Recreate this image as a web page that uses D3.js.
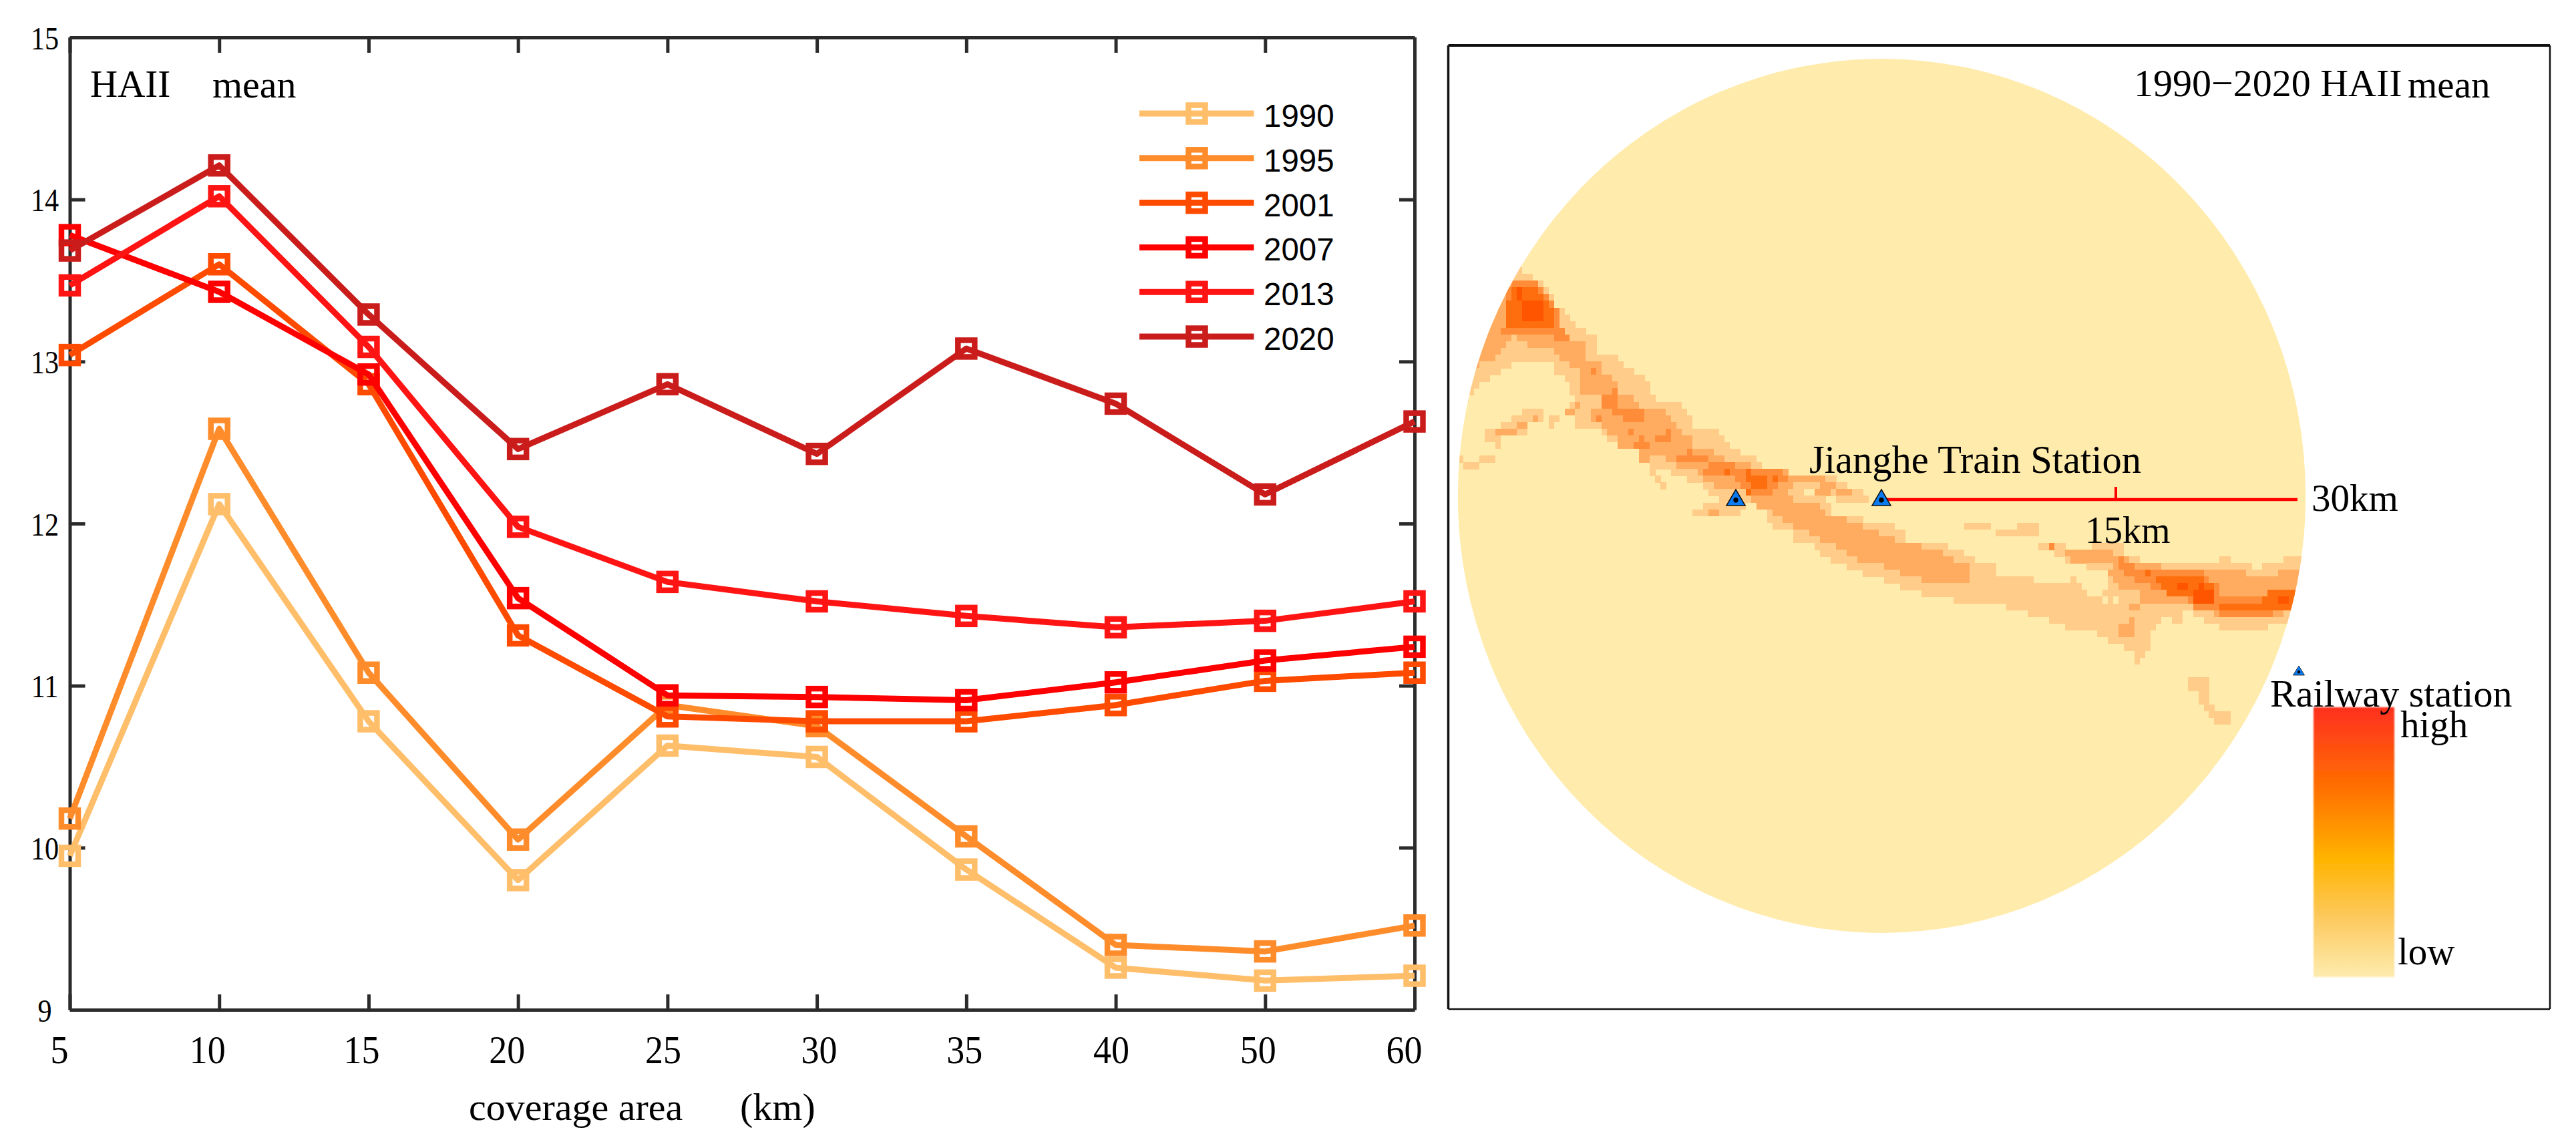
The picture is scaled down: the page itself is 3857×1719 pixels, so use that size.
<!DOCTYPE html>
<html>
<head>
<meta charset="utf-8">
<script src="https://d3js.org/d3.v7.min.js"></script>
<style>
  body { margin: 0; background: #fff; }
  text { font-family: "Liberation Serif", serif; fill: #000; }
</style>
</head>
<body>
<div id="chart"></div>
<script>
// coverage area categories, the axis is not linear (40, 50, 60)
var areas = [5, 10, 15, 20, 25, 30, 35, 40, 50, 60];
var years = ["1990", "1995", "2001", "2007", "2013", "2020"];

var hai1990 = [9.95, 12.12, 10.78, 9.80, 10.63, 10.56, 9.865, 9.26, 9.18, 9.21];
var hai1995 = [10.18, 12.585, 11.08, 10.05, 10.88, 10.75, 10.07, 9.40, 9.36, 9.52];
var hai2001 = [13.04, 13.60, 12.86, 11.31, 10.81, 10.78, 10.78, 10.88, 11.03, 11.08];
var hai2007 = [13.78, 13.43, 12.92, 11.54, 10.94, 10.93, 10.91, 11.02, 11.155, 11.24];
var hai2013 = [13.47, 14.02, 13.09, 11.98, 11.64, 11.52, 11.43, 11.36, 11.40, 11.52];
var hai2020 = [13.685, 14.21, 13.29, 12.46, 12.86, 12.43, 13.08, 12.74, 12.18, 12.63];
var allSeries = [hai1990, hai1995, hai2001, hai2007, hai2013, hai2020];
var yearColors = ["#FFBE6A", "#FF8C2B", "#FF4B00", "#FF0000", "#FF1414", "#CB1C1C"];

var yTicks = [9, 10, 11, 12, 13, 14, 15];

// map zones, in raster cells (col, row). polygons are lists of points,
// boxes are [col0, col1, row0, row1]
var lightZones = [
  [[11.8,31.3],[14.1,32.5],[16.2,33.6],[17.9,35.9],[19.2,37.3],[21.1,38.3],[22.1,39.4],[24,40.4],[25.9,41.7],[26,43.7],[30,44],[31,46.2],[33,46.4],[34.9,47.5],[36,48.8],[37,51],[41.2,51.3],[43.1,52.3],[44,54.5],[47.2,54.8],[50.1,56],[51.3,58],[53.1,58.3],[53.2,59.3],[57.1,59.6],[57.4,60.6],[62.5,60.9],[62.5,61.9],[68.6,62.3],[71.8,62.6],[71.8,63.4],[76,63.7],[76,64.7],[76.9,65.7],[73.8,65.6],[69.2,65.4],[69.6,66.6],[70.2,66.7],[70.5,67.8],[75.6,68],[75.6,69],[81.7,69.4],[82,70.4],[83.9,70.5],[83.9,71.9],[89.6,71.8],[92.2,72],[92.2,73],[95.3,73.1],[95.3,74.3],[97.3,74.4],[97.3,75.3],[101.4,75.5],[101.4,76.6],[107.8,77],[107.8,78],[115.1,78.3],[115.1,77.3],[116,77.3],[116,78.4],[118.1,78.6],[118.1,79.6],[121.2,79.8],[121.4,78.8],[122.4,78.6],[122.4,76],[114.2,75],[114.2,74],[109,72.8],[109,71.7],[114.2,71.8],[114.3,72.9],[118.6,73],[118.6,72.2],[124.7,72.3],[124.8,73.5],[127.9,73.6],[127.9,74.5],[132,74.7],[133.1,75],[142.5,75.2],[142.7,74.2],[144.8,74.2],[144.8,75.3],[151.1,75.6],[151.1,74.6],[155.3,74.6],[155.3,73.6],[157.3,73.6],[160,74],[160,84.3],[155,84.3],[152.4,84.4],[152.4,85.2],[143.2,84.9],[143,83.9],[140,83.7],[140,82.6],[135.8,82.4],[135.6,83.6],[132.5,83.4],[130.4,84.6],[130.1,87.6],[129,87.7],[129,88.5],[128,88.7],[128,89.7],[126.9,89.7],[126.9,88.5],[124.9,88.4],[124.9,87.3],[121.8,87.2],[121.8,86.2],[119.8,86.2],[119.8,84.9],[114.5,84.7],[114.5,83.6],[107.3,83.4],[107.3,82.3],[103.1,82.1],[103.1,81.1],[94.8,80.6],[89.6,80.3],[78,77],[68.9,74.2],[67,73],[66,71.9],[62.9,71.5],[62.9,70.5],[59.7,70.4],[58.7,69.2],[57.8,67],[54.9,65.9],[52.7,66.9],[52.5,67.9],[49.5,67.7],[44.2,67.6],[44.2,66.6],[46.3,66.5],[46.3,65.6],[48.5,65.6],[48.7,64.6],[45.6,64.4],[45.5,63.4],[43.4,63.3],[43.4,62.1],[40.4,61.9],[40.4,60.8],[36.4,60.6],[36.2,59.4],[34.2,59.4],[34.2,58.5],[30.2,58.1],[30.2,57],[28.1,57],[28.1,55.8],[27.2,55.8],[27.2,54.8],[22,54.5],[21.9,52.5],[20,53.3],[20,52.4],[21.1,52.3],[21.2,51.3],[22.2,51.3],[22.2,50.3],[21.3,50.2],[21.4,47.9],[20.5,47.9],[20.5,46.7],[18.4,46.5],[18.4,45.5],[10,45.2],[9.8,46.2],[7.7,46.3],[7.7,47.2],[5.6,47.3],[5.5,48.3],[4.3,48.4],[4.3,49.3],[3.2,49.4],[3.2,50.3],[2.15,50.4],[2,51.5],[0,51.5],[0,40],[10,31]],
  [[11.7,52],[15.7,52.2],[15.7,54.1],[13.4,54.3],[12.4,56.2],[8.1,56],[8,58.3],[6.9,58.3],[6.9,57.1],[5,57.1],[5,55],[8.1,55],[8.3,54],[10.4,54],[10.6,53],[11.5,52.9]],
  [16.6,18.7,53.3,54.3], [16.6,17.7,54.3,55.5],
  [0.5,1.5,59,60], [3.7,6.7,59.3,60.4], [1.5,3.6,60.2,61.3],
  [36.2,37.4,60.8,61.8], [37.1,38.1,61.9,62.9], [38.1,39.1,63,64],
  [83.3,86.5,65.6,66.3], [94.6,99.8,68.9,70], [100.8,105,70.2,71.3], [105,109,69.4,71.5],
  [[137.1,92.4],[141.3,92.5],[141.3,95.7],[142.2,95.8],[142.2,96.9],[145.2,97],[145.2,99.1],[141.9,99],[141.9,97.8],[140.3,96.8],[140.3,95.7],[139.2,95.6],[139.2,94.4],[137.1,94.3]],
  [131.6,132.5,97.5,98.5]
];

var holeZones = [
  [64.8,66.8,64.3,65.3], [121.3,122.1,79.9,80.8], [123.4,124.4,79.9,80.8]
];

var midZones = [
  [[10.1,33.4],[15,33.5],[16.2,34.8],[17,35.9],[17.9,37.1],[19,39.2],[19.8,40.6],[20.8,42.4],[24,42.4],[24,44.5],[26.8,45],[26.8,47],[28.7,47.2],[29.7,48.4],[29.7,49.5],[32.9,49.8],[33.7,51.5],[37.7,52],[39.9,53.3],[40.9,54.5],[41.7,55.5],[43.7,56.6],[43.9,57.8],[47.9,58.1],[48.2,59.1],[50.1,59.3],[52,60.3],[58.3,60.8],[62.2,61.1],[63.5,63.2],[62.2,64.1],[62.2,65.2],[67.6,66.5],[68.6,67.6],[70.5,67.7],[73.6,68.9],[78.7,70.2],[81.7,71.4],[89,72.9],[93.1,74.1],[93.1,75.3],[96.3,75.5],[96.3,78.4],[89.6,78.3],[80.7,75.7],[75.3,74.5],[69.2,71.9],[66.1,70.7],[62.9,69.5],[60,68.2],[58.1,67.1],[54.9,65.9],[54.9,64.9],[53,63.7],[45.6,63.4],[45.6,62.3],[44.6,62.1],[44.5,61.1],[41.5,60.9],[41.5,59.8],[39.5,59.8],[37.4,58.6],[35.1,60.4],[34.3,59.4],[34.2,58.3],[30.2,58.2],[30.2,56.3],[29.1,56],[27.2,55],[27.2,53.7],[25.2,53.6],[25.2,51.7],[27.5,51.5],[27.5,49.8],[23.5,49.8],[23.5,46.9],[21.4,45.5],[18.5,44.4],[18.5,43.2],[13.2,43.1],[12.4,42.1],[10.25,40.9],[8,43.1],[6.7,45],[4.5,45],[3.5,46],[0,46],[0,34],[8,33]],
  [[62.5,61.9],[68.6,62.3],[68.6,63.4],[73.8,63.6],[73.8,64.6],[68.9,64.4],[68,63.5],[63.5,63.2]],
  [[114.3,72.9],[123.4,73.3],[123.7,74.4],[132,74.8],[132,75.8],[140.6,76.2],[152.7,76.7],[157.5,75.8],[160,75.8],[160,82.1],[155.9,82.1],[152.7,83.1],[142.2,82.8],[141.3,81.6],[136.8,81.4],[128.6,81.1],[127.5,79.4],[124.4,79],[122.4,76.5],[123.4,75.5],[117.3,75.3],[114.2,74]],
  [[124,84.2],[126.3,83.3],[127.2,83.3],[127,86.4],[125,86.4],[124,85.2]],
  [126.5,128.5,81.1,82.1],
  [7.1,11.5,55.2,56.1], [11.4,13.4,54.1,55.1], [13.6,14.7,53.2,54.1],
  [19.9,22,52.4,53.4], [22.2,23.2,51.3,52.4], [47.2,49.4,66.7,67.7], [67.5,69.6,64.4,65.4]
];

var strongZones = [
  [[10,33.4],[15,33.5],[16.2,34.6],[17,35.6],[17.9,37.1],[19,37.3],[19,39.9],[9.6,39.9],[9.4,34.6]],
  [[8.3,39.7],[19.5,39.9],[19.8,41.1],[20.8,41.4],[20.8,42.4],[17.6,42.4],[17.6,41.3],[8.2,40.8]],
  [24.6,25.6,46,47], [28.6,29.6,49.5,50.5], [27.5,29.6,50.5,51.7],
  [[29.5,51.8],[34.7,52],[34.7,54],[31.6,54],[31.3,52.9],[29.5,52.8]],
  [26.2,27.3,52.7,53.6], [32.4,33.5,55.1,56.1], [34.3,35.3,56.3,57.3], [33.2,36.4,57.3,58.5],
  [38.6,39.7,55.5,57.5], [37.5,39.7,56.5,57.5], [42.8,43.7,57.8,59], [41.5,46.8,59,60.2],
  [[46.7,60.3],[52,60.4],[52,61.2],[58.4,60.8],[62.4,61.9],[62.4,62.9],[60,62.9],[59,64.9],[53.9,64.7],[53,62.6],[50.7,62.4],[45.6,62.3],[45.6,61.3],[46.7,61.3]],
  [111.3,112.3,71.7,72.8],
  [[123.7,74.4],[126.9,74.6],[126.9,75.6],[131.1,76],[137.4,76.2],[140.3,76.2],[140.3,77.3],[142.5,78.4],[143.2,79.6],[150.5,80.1],[153.4,79],[156.6,79.1],[160,79.1],[160,81.3],[152.7,82.1],[152.7,83.1],[144.4,82.9],[141.9,81.8],[137.1,81.4],[136.8,80.4],[133.9,80.2],[133,79.1],[129.8,79],[129.8,78],[126.6,77.8],[126.3,76.6],[124.7,76.5],[123.7,75.5]]
];

var hotZones = [
  [[9.6,34.4],[13,33.5],[15,34.6],[16.8,35.8],[17.9,37.1],[17.9,40],[9.3,39.8]],
  [49.8,50.9,61.4,62.4], [54.1,55.1,61.5,62.6], [55.1,58.3,61.7,63.7], [53.8,54.9,63.7,64.7], [59.2,60.3,61.8,62.8],
  [128.6,129.9,75.7,76.8],
  [[130.9,77],[136.2,77.3],[140.3,77.4],[140.3,78.3],[142.4,78.4],[142.4,80.6],[133.9,80.3],[133,79.1],[130.9,78.1]],
  [143.2,150.8,80.8,82],
  [[150.8,80],[152.7,79],[156.6,79.1],[160,79.1],[160,81.3],[151.8,82.1],[150.6,81.9]]
];

var peakZones = [
  [11.7,16,35.6,38.9], [10.7,11.8,34.4,35.6],
  [135,137.1,78.2,79.2], [138.1,142.2,79.4,80.6], [139.3,140.3,78.3,79.4], [153.7,156.3,80.1,81.3]
];

var zoneLevels = [lightZones, holeZones, midZones, strongZones, hotZones, peakZones];
var zoneColors = ["#FFCC8A", "#FFEBAB", "#FFAB60", "#FF8C38", "#FF6E0E", "#FF5500"];

var bufferKm = [0, 15, 30];

var colorStops = [
  { offset: 0, color: "#FF3020" },
  { offset: 0.3, color: "#FF7000" },
  { offset: 0.564, color: "#FFB400" },
  { offset: 0.77, color: "#FDC85A" },
  { offset: 1, color: "#FDEBAE" }
];

var svgWidth = 3857;
var svgHeight = 1719;
var serif = "'Liberation Serif', serif";

const svg = d3.select("#chart")
  .append("svg")
  .attr("width", svgWidth)
  .attr("height", svgHeight)
  .style("display", "block");

/////// left panel: line chart ///////
var frame = { left: 104.5, right: 2118, top: 56, bottom: 1512 };

var xScale = d3.scalePoint().domain(areas).range([frame.left, frame.right]);
var yScale = d3.scaleLinear().domain([9, 15]).range([frame.bottom, frame.top]);

var axisColor = "#2b2b2b";
var tickLen = 23;

function styleAxis(g) {
  g.selectAll("path.domain").attr("stroke", axisColor).attr("stroke-width", 5);
  g.selectAll(".tick line").attr("stroke", axisColor).attr("stroke-width", 5);
}

// labels in the original are not centred on the ticks
var xLabelShift = [-16, -18, -11, -17, -7, 3, -3, -7, -11, -16];

var xAxis = svg.append("g")
  .attr("transform", `translate(0, ${frame.bottom})`)
  .call(d3.axisBottom(xScale).tickSize(-tickLen).tickSizeOuter(0))
  .call(styleAxis);
xAxis.selectAll(".tick text")
  .attr("font-family", serif)
  .attr("font-size", 60)
  .attr("fill", "#000")
  .attr("text-anchor", "middle")
  .attr("dy", 0)
  .attr("y", 80)
  .attr("transform", "scale(0.9, 1)")
  .attr("x", (d, i) => xLabelShift[i] / 0.9);

svg.append("g")
  .attr("transform", `translate(0, ${frame.top})`)
  .call(d3.axisTop(xScale).tickSize(-tickLen).tickSizeOuter(0).tickFormat(""))
  .call(styleAxis);

var yAxis = svg.append("g")
  .attr("transform", `translate(${frame.left}, 0)`)
  .call(d3.axisLeft(yScale).tickValues(yTicks).tickFormat(d3.format("d")).tickSize(-tickLen).tickSizeOuter(0))
  .call(styleAxis);
yAxis.selectAll(".tick text")
  .attr("font-family", serif)
  .attr("font-size", 48)
  .attr("fill", "#000")
  .attr("text-anchor", "middle")
  .attr("dy", 0)
  .attr("y", 17)
  .attr("transform", "scale(0.88, 1)")
  .attr("x", -37.5 / 0.88);

svg.append("g")
  .attr("transform", `translate(${frame.right}, 0)`)
  .call(d3.axisRight(yScale).tickValues(yTicks).tickSize(-tickLen).tickSizeOuter(0).tickFormat(""))
  .call(styleAxis);

var line = d3.line()
  .x((d, i) => xScale(areas[i]))
  .y(d => yScale(d));

var markerSize = 25;
var markerStroke = 8.5;

allSeries.forEach(function (series, s) {
  var g = svg.append("g").attr("class", "series");
  g.append("path")
    .attr("d", line(series))
    .attr("fill", "none")
    .attr("stroke", yearColors[s])
    .attr("stroke-width", 9)
    .attr("stroke-linejoin", "round");
  g.selectAll("rect")
    .data(series)
    .enter()
    .append("rect")
    .attr("x", (d, i) => xScale(areas[i]) - markerSize / 2)
    .attr("y", d => yScale(d) - markerSize / 2)
    .attr("width", markerSize)
    .attr("height", markerSize)
    .attr("fill", "none")
    .attr("stroke", yearColors[s])
    .attr("stroke-width", markerStroke);
});

// legend
var legendY = d3.scalePoint().domain(years).range([170, 504]);
var legend = svg.selectAll(".legend")
  .data(years)
  .enter()
  .append("g")
  .attr("class", "legend")
  .attr("transform", d => `translate(0, ${legendY(d)})`);
legend.append("line")
  .attr("x1", 1706).attr("x2", 1877.5)
  .attr("stroke", (d, i) => yearColors[i])
  .attr("stroke-width", 9);
legend.append("rect")
  .attr("x", 1792 - markerSize / 2).attr("y", -markerSize / 2)
  .attr("width", markerSize).attr("height", markerSize)
  .attr("fill", "none")
  .attr("stroke", (d, i) => yearColors[i])
  .attr("stroke-width", markerStroke);
legend.append("text")
  .attr("x", 1892).attr("y", 20)
  .style("font-family", "'Liberation Sans', sans-serif")
  .attr("font-size", 47.5)
  .text(d => d);

function label(x, y, size, str) {
  return svg.append("text")
    .attr("x", x).attr("y", y)
    .attr("font-size", size)
    .text(str);
}

label(135, 145, 57, "HAII");
label(318, 146, 58, "mean");
label(702, 1677, 58, "coverage area");
label(1108, 1677, 58, "(km)");

/////// right panel: map ///////
var mapFrame = { left: 2168.5, right: 3818, top: 68, bottom: 1511 };
[
  [mapFrame.left, mapFrame.top, mapFrame.right, mapFrame.top, 4],
  [mapFrame.left, mapFrame.bottom, mapFrame.right, mapFrame.bottom, 2.5],
  [mapFrame.left, mapFrame.top, mapFrame.left, mapFrame.bottom, 3.5],
  [mapFrame.right, mapFrame.top, mapFrame.right, mapFrame.bottom, 2.5]
].forEach(function (f) {
  svg.append("line")
    .attr("x1", f[0]).attr("y1", f[1]).attr("x2", f[2]).attr("y2", f[3])
    .attr("stroke", "#111").attr("stroke-width", f[4]);
});

var nCols = 160;
var nRows = 131;
var colScale = d3.scaleLinear().domain([0, nCols]).range([2183, 3459]);
var rowScale = d3.scaleLinear().domain([0, nRows]).range([88, 1407]);

var defs = svg.append("defs");
defs.append("clipPath")
  .attr("id", "mapClip")
  .append("ellipse")
  .attr("cx", 2817.5).attr("cy", 742.5).attr("rx", 634.7).attr("ry", 654.5);

svg.append("ellipse")
  .attr("cx", 2817.5).attr("cy", 742.5).attr("rx", 634.7).attr("ry", 654.5)
  .attr("fill", zoneColors[1]);

function inZone(z, c, r) {
  if (Array.isArray(z[0])) return d3.polygonContains(z, [c, r]);
  return c >= z[0] && c < z[1] && r >= z[2] && r < z[3];
}

// turn the zones into raster cells, later levels paint over earlier ones
var cells = [];
d3.range(nCols).forEach(function (c) {
  d3.range(nRows).forEach(function (r) {
    var level = -1;
    zoneLevels.forEach(function (zones, l) {
      if (zones.some(z => inZone(z, c + 0.5, r + 0.5))) level = l;
    });
    if (level >= 0) cells.push({ c: c, r: r, level: level });
  });
});

svg.append("g")
  .attr("clip-path", "url(#mapClip)")
  .attr("shape-rendering", "crispEdges")
  .selectAll("rect")
  .data(cells)
  .enter()
  .append("rect")
  .attr("x", d => colScale(d.c))
  .attr("y", d => rowScale(d.r))
  .attr("width", colScale(1) - colScale(0) + 0.5)
  .attr("height", rowScale(1) - rowScale(0) + 0.5)
  .attr("fill", d => zoneColors[d.level]);

// 30 km buffer radius line
var stationX = 2817;
var stationY = 748;
var kmScale = d3.scaleLinear().domain([0, 30]).range([stationX, 3440]);

svg.append("line")
  .attr("x1", kmScale(bufferKm[0])).attr("x2", kmScale(bufferKm[2]))
  .attr("y1", stationY).attr("y2", stationY)
  .attr("stroke", "#FF0000").attr("stroke-width", 4.5);
svg.append("line")
  .attr("x1", 3168).attr("x2", 3168)
  .attr("y1", 729).attr("y2", stationY)
  .attr("stroke", "#FF0000").attr("stroke-width", 4);

function station(x, apexY, w, h) {
  svg.append("path")
    .attr("d", `M${x},${apexY}L${x + w / 2},${apexY + h}L${x - w / 2},${apexY + h}Z`)
    .attr("fill", "#0A7BF0")
    .attr("stroke", "#111")
    .attr("stroke-width", h > 20 ? 1.5 : 0.8);
  svg.append("ellipse")
    .attr("cx", x).attr("cy", apexY + h * 0.66)
    .attr("rx", w * 0.13).attr("ry", h * 0.16)
    .attr("fill", "#000");
}

station(2599, 733, 28, 24);
station(2817, 733, 28, 24);
station(3442, 997, 17, 14);

// colour bar
var grad = defs.append("linearGradient")
  .attr("id", "rampGrad")
  .attr("x1", 0).attr("y1", 0).attr("x2", 0).attr("y2", 1);
grad.selectAll("stop")
  .data(colorStops)
  .enter()
  .append("stop")
  .attr("offset", d => d.offset)
  .attr("stop-color", d => d.color);
defs.append("filter")
  .attr("id", "soft")
  .append("feGaussianBlur")
  .attr("stdDeviation", 1.2);

svg.append("rect")
  .attr("x", 3464).attr("y", 1059)
  .attr("width", 121).attr("height", 404)
  .attr("fill", "url(#rampGrad)")
  .attr("filter", "url(#soft)");

label(3195, 144, 58, "1990\u22122020 HAII");
label(3605, 146, 57, "mean");
label(2709, 708, 60, "Jianghe Train Station")
  .attr("textLength", 497)
  .attr("lengthAdjust", "spacingAndGlyphs");
label(3461, 765, 57, "30km");
label(3122, 813, 56, "15km");
label(3399, 1058, 58, "Railway station");
label(3594, 1104, 57, "high");
label(3590, 1444, 57, "low");
</script>
</body>
</html>
